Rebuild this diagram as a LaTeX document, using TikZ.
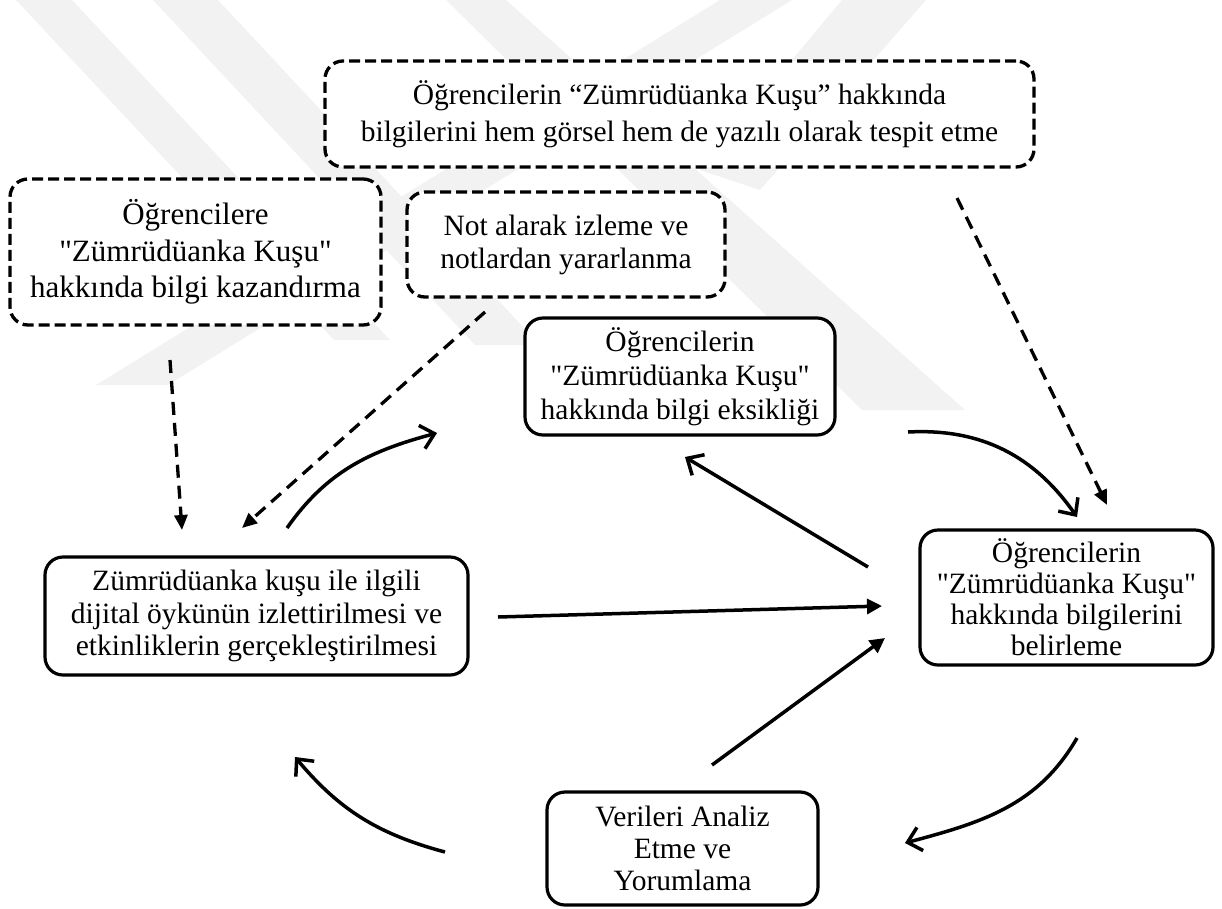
\documentclass[tikz,border=0pt]{standalone}
\usepackage{fontspec}
\setmainfont{Liberation Serif}[Ligatures=TeXOff]
\usetikzlibrary{arrows.meta}
\begin{document}
\begin{tikzpicture}[x=1pt,y=1pt,
  box/.style={draw=black, fill=white, line width=3.2pt, rounded corners=18pt, align=center,
    inner sep=0pt, font=\fontsize{29.5}{34}\selectfont},
  dbox/.style={box, line width=3.3pt, dash pattern=on 11pt off 5pt},
  flow/.style={line width=3.5pt, -{Straight Barb[length=13pt,width=24pt,line width=3.5pt]}},
  push/.style={line width=3.5pt, -{Triangle[length=15pt,width=15pt]}},
  hint/.style={line width=3.3pt, dash pattern=on 13pt off 8pt, -{Triangle[length=15pt,width=13pt]}},
  emblem/.style={fill=black!5, draw=none}]
\useasboundingbox (0,0) rectangle (1222,-908);

% faint background emblem
\fill[emblem] (16,0) -- (72,0) -- (390,-340) -- (334,-340) -- cycle;
\fill[emblem] (153,0) -- (218,0) -- (540,-345) -- (475,-345) -- cycle;
\fill[emblem] (720,0) -- (792,0) -- (168,-385) -- (96,-385) -- cycle;
\fill[emblem] (446,0) -- (506,0) -- (965,-410) -- (862,-410) -- cycle;
\fill[emblem] (842,0) -- (926,0) -- (760,-190) -- (700,-170) -- cycle;

% boxes
\node[dbox, minimum width=709pt, minimum height=106pt, font=\fontsize{29.5}{36.5}\selectfont]
  (goal) at (679.5,-114) {Öğrencilerin “Zümrüdüanka Kuşu” hakkında\\bilgilerini hem görsel hem de yazılı olarak tespit etme};
\node[dbox, minimum width=371pt, minimum height=146pt, font=\fontsize{31}{36.5}\selectfont]
  (teach) at (195.5,-252) {Öğrencilere\\"Zümrüdüanka Kuşu"\\hakkında bilgi kazandırma};
\node[dbox, minimum width=318pt, minimum height=105pt, font=\fontsize{29.5}{33}\selectfont]
  (notes) at (566,-244.5) {Not alarak izleme ve\\notlardan yararlanma};
\node[box, minimum width=310pt, minimum height=117pt]
  (lack) at (680,-376.5) {Öğrencilerin\\"Zümrüdüanka Kuşu"\\hakkında bilgi eksikliği};
\node[box, minimum width=293pt, minimum height=135pt, font=\fontsize{29.5}{31}\selectfont]
  (know) at (1066.5,-597.5) {Öğrencilerin\\"Zümrüdüanka Kuşu"\\hakkında bilgilerini\\belirleme};
\node[box, minimum width=423pt, minimum height=118pt, font=\fontsize{29.5}{32.5}\selectfont]
  (story) at (256.5,-616) {Zümrüdüanka kuşu ile ilgili\\dijital öykünün izlettirilmesi ve\\etkinliklerin gerçekleştirilmesi};
\node[box, minimum width=271pt, minimum height=113pt, font=\fontsize{29.5}{32}\selectfont]
  (data) at (682.5,-848.5) {Verileri Analiz\\Etme ve\\Yorumlama};

% free ends of the connectors
\coordinate (teachOut) at (170,-360);
\coordinate (storyInA) at (182,-530);
\coordinate (notesOut) at (485,-312);
\coordinate (storyInB) at (242,-528);
\coordinate (storyOut) at (287,-528);
\coordinate (lackIn) at (437,-433);
\coordinate (lackOut) at (908,-432);
\coordinate (knowInA) at (1077,-517);
\coordinate (goalOut) at (957,-198);
\coordinate (knowInB) at (1107,-505);
\coordinate (knowBack) at (868,-567);
\coordinate (lackInB) at (685,-457);
\coordinate (storyRight) at (498,-617);
\coordinate (knowInC) at (882,-606);
\coordinate (dataOut) at (712,-765);
\coordinate (knowInD) at (885,-638);
\coordinate (knowOut) at (1077,-738);
\coordinate (dataIn) at (905,-843);
\coordinate (dataLeft) at (445,-852);
\coordinate (storyIn) at (295,-757);

% dashed hints
\draw[hint] (teachOut) -- (storyInA);
\draw[hint] (notesOut) -- (storyInB);
\draw[hint] (goalOut) -- (knowInB);

% cycle
\draw[flow] (storyOut) to[out=55,in=195] (lackIn);
\draw[flow] (lackOut) to[out=3,in=125] (knowInA);
\draw[flow] (knowBack) -- (lackInB);
\draw[push] (storyRight) -- (knowInC);
\draw[push] (dataOut) -- (knowInD);
\draw[flow] (knowOut) to[out=-120,in=15] (dataIn);
\draw[flow] (dataLeft) to[out=165,in=-50] (storyIn);
\end{tikzpicture}
\end{document}
